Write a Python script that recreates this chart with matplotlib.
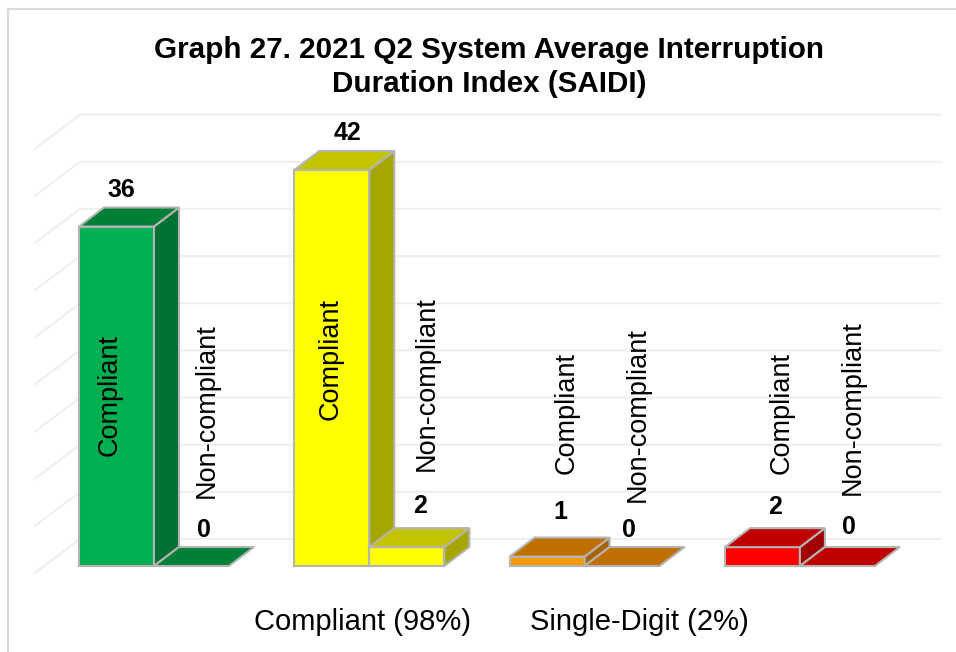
import matplotlib.pyplot as plt
from matplotlib.patches import Polygon

plt.rcParams['font.family'] = ['Liberation Sans', 'DejaVu Sans']

title = 'Graph 27. 2021 Q2 System Average Interruption\nDuration Index (SAIDI)'
series_names = ['Compliant', 'Non-compliant']
compliant = [36, 42, 1, 2]
non_compliant = [0, 2, 0, 0]
grid_values = [0, 5, 10, 15, 20, 25, 30, 35, 40, 45]
group_labels = ['Compliant (98%)', 'Single-Digit (2%)']

front_colors = ['#00B050', '#FFFF00', '#FF9900', '#FF0000']
top_colors = ['#008037', '#C4C400', '#C07000', '#C00000']
side_colors = ['#007033', '#A6A600', '#A86200', '#A00000']
edge_color = '#B4B4B4'
grid_color = '#EFEFEF'

# scale of the picture, in pixels
W, H = 956, 652
x0, group_step = 154.0, 215.3
y0, unit = 566.0, 9.43
bar_w = 75 / group_step
depth_x = 25 / group_step
depth_y = 19 / unit
grid_lift = 27 / unit
wall_x = 45 / group_step
wall_y = 34 / unit

fig = plt.figure(figsize=(W / 100, H / 100), dpi=100)
ax = fig.add_axes([0, 0, 1, 1])
ax.set_xlim(-x0 / group_step, (W - x0) / group_step)
ax.set_ylim((y0 - H) / unit, y0 / unit)
ax.axis('off')


def px(x, y):
    return (x - x0) / group_step, (y0 - y) / unit


def draw_bar(left, value, i):
    right = left + bar_w
    if value > 0:
        ax.bar(left, value, bar_w, align='edge', color=front_colors[i],
               edgecolor=edge_color, linewidth=1.5, zorder=3)
        side = [(right, 0), (right + depth_x, depth_y),
                (right + depth_x, value + depth_y), (right, value)]
        ax.add_patch(Polygon(side, facecolor=side_colors[i], edgecolor=edge_color,
                             linewidth=1.5, zorder=3))
    top = [(left, value), (right, value),
           (right + depth_x, value + depth_y), (left + depth_x, value + depth_y)]
    ax.add_patch(Polygon(top, facecolor=top_colors[i], edgecolor=edge_color,
                         linewidth=1.5, zorder=3))


# frame of the screenshot
ax.plot(*zip(px(8, H), px(8, 9), px(W, 9)), color='#D9D9D9', linewidth=1.5, zorder=1)

# back wall grid
gx_left = px(80, 0)[0]
gx_right = px(940, 0)[0]
for v in grid_values:
    ax.plot([gx_left - wall_x, gx_left, gx_right],
            [v + grid_lift - wall_y, v + grid_lift, v + grid_lift],
            color=grid_color, linewidth=1.5, zorder=1)

for i in range(len(compliant)):
    draw_bar(i - bar_w, compliant[i], i)
    draw_bar(i, non_compliant[i], i)

# value labels, pixel position read per bar
value_pos = [(121, 190), (204, 530), (347, 133), (420, 506),
             (560, 512), (629, 530), (775, 507), (849, 527)]
values = [v for pair in zip(compliant, non_compliant) for v in pair]
for v, (x, y) in zip(values, value_pos):
    ax.text(*px(x, y), str(v), fontsize=18, fontweight='bold', ha='center',
            va='center', color='black', zorder=5)

# names written along the bars
name_pos = [(110, 395), (207, 411), (331, 359), (427, 384),
            (567, 413), (638, 415), (782, 413), (853, 408)]
names = series_names * len(compliant)
for name, (x, y) in zip(names, name_pos):
    ax.text(*px(x, y), name, fontsize=19.5, rotation=90, ha='center', va='center',
            color='black', zorder=5)

ax.text(*px(489, 67), title, fontsize=21.3, fontweight='bold', ha='center',
        va='center', linespacing=1.25, color='black')
for label, x in zip(group_labels, [362, 639]):
    ax.text(*px(x, 622), label, fontsize=21, ha='center', va='center', color='black')

plt.savefig('out.png', dpi=100)
plt.close()
